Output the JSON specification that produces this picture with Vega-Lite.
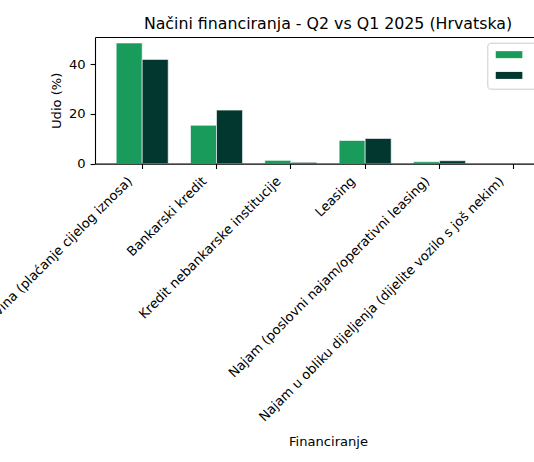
{
  "$schema": "https://vega.github.io/schema/vega-lite/v6.json",
  "autosize": "none",
  "width": 439,
  "height": 126.6,
  "padding": {"left": 95, "top": 37, "right": 0, "bottom": 298.4},
  "background": "white",
  "config": {"font": "DejaVu Sans", "view": {"stroke": null}},
  "title": {"text": "Načini financiranja - Q2 vs Q1 2025 (Hrvatska)", "fontSize": 15.8, "fontWeight": "normal", "font": "DejaVu Sans", "color": "black", "anchor": "middle", "dx": 13.5, "baseline": "alphabetic", "offset": -7.5},
  "data": {"values": [
    {"Financiranje": "Gotovina (plaćanje cijelog iznosa)", "Kvartal": "Q2 2025", "Udio": 48.5},
    {"Financiranje": "Gotovina (plaćanje cijelog iznosa)", "Kvartal": "Q1 2025", "Udio": 41.9},
    {"Financiranje": "Bankarski kredit", "Kvartal": "Q2 2025", "Udio": 15.4},
    {"Financiranje": "Bankarski kredit", "Kvartal": "Q1 2025", "Udio": 21.5},
    {"Financiranje": "Kredit nebankarske institucije", "Kvartal": "Q2 2025", "Udio": 1.3},
    {"Financiranje": "Kredit nebankarske institucije", "Kvartal": "Q1 2025", "Udio": 0.5},
    {"Financiranje": "Leasing", "Kvartal": "Q2 2025", "Udio": 9.3},
    {"Financiranje": "Leasing", "Kvartal": "Q1 2025", "Udio": 10.1},
    {"Financiranje": "Najam (poslovni najam/operativni leasing)", "Kvartal": "Q2 2025", "Udio": 0.75},
    {"Financiranje": "Najam (poslovni najam/operativni leasing)", "Kvartal": "Q1 2025", "Udio": 1.15},
    {"Financiranje": "Najam u obliku dijeljenja (dijelite vozilo s još nekim)", "Kvartal": "Q2 2025", "Udio": 0},
    {"Financiranje": "Najam u obliku dijeljenja (dijelite vozilo s još nekim)", "Kvartal": "Q1 2025", "Udio": 0}
  ]},
  "layer": [
    {
      "mark": {"type": "bar", "stroke": "white", "strokeWidth": 0.6},
      "encoding": {
        "x": {
          "field": "Financiranje", "type": "nominal", "sort": null,
          "scale": {"range": [0, 466], "paddingInner": 0.3, "paddingOuter": 0.285},
          "axis": {
            "zindex": 1,
            "labelAngle": -45, "labelAlign": "right", "labelBaseline": "middle",
            "labelFontSize": 13.1, "labelColor": "black", "labelPadding": 10.2, "labelOffset": -12,
            "labelLimit": 0, "labelOverlap": false, "labelBound": false, "labelFlush": false,
            "tickSize": 4.9, "tickColor": "black", "tickWidth": 1.1,
            "domainColor": "black", "domainWidth": 1.1,
            "title": "Financiranje", "titleFontSize": 13.1, "titleFontWeight": "normal", "titleColor": "black",
            "titleBaseline": "alphabetic", "titleY": 281.4
          }
        },
        "xOffset": {"field": "Kvartal", "sort": ["Q2 2025", "Q1 2025"]},
        "y": {
          "field": "Udio", "type": "quantitative",
          "scale": {"domain": [0, 50.9], "nice": false},
          "axis": {
            "zindex": 1,
            "values": [0, 20, 40], "grid": false,
            "labelFontSize": 13.1, "labelColor": "black", "labelPadding": 4.9,
            "tickSize": 4.9, "tickColor": "black", "tickWidth": 1.1,
            "domainColor": "black", "domainWidth": 1.1,
            "title": "Udio (%)", "titleFontSize": 13.1, "titleFontWeight": "normal", "titleColor": "black",
            "titleX": -38.3, "titleY": 63.3, "titleBaseline": "middle", "titleAlign": "center", "titleAngle": -90
          }
        },
        "color": {
          "field": "Kvartal", "type": "nominal", "sort": ["Q2 2025", "Q1 2025"],
          "scale": {"range": ["#189b5b", "#01372f"]},
          "legend": {
            "title": null, "orient": "none", "legendX": 392.3, "legendY": 5.7,
            "symbolType": "M-1,-1H6.6V1H-1Z", "symbolSize": 49, "symbolStrokeWidth": 0, "symbolOpacity": 1,
            "labelFontSize": 13.1, "labelColor": "black", "labelOffset": 31,
            "padding": 5.4, "rowPadding": 6.75,
            "strokeColor": "#cccccc", "fillColor": "rgba(255,255,255,0.8)", "cornerRadius": 3
          }
        }
      }
    },
    {
      "mark": {"type": "point", "opacity": 0},
      "encoding": {
        "x": {
          "field": "Financiranje", "type": "nominal", "sort": null,
          "axis": {"orient": "top", "zindex": 1, "labels": false, "ticks": false, "title": null, "domainColor": "black", "domainWidth": 1.1}
        }
      }
    }
  ],
  "resolve": {"axis": {"x": "independent"}}
}
